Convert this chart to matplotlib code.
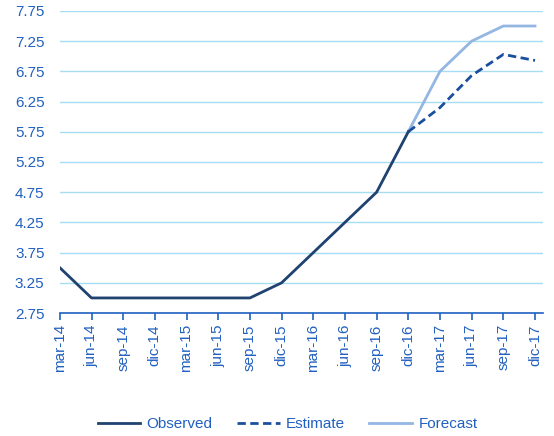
import matplotlib.pyplot as plt
import numpy as np

quarters = ["mar-14", "jun-14", "sep-14", "dic-14", "mar-15", "jun-15", "sep-15", "dic-15",
            "mar-16", "jun-16", "sep-16", "dic-16", "mar-17", "jun-17", "sep-17", "dic-17"]
observed = [3.5, 3.0, 3.0, 3.0, 3.0, 3.0, 3.0, 3.25, 3.75, 4.25, 4.75, 5.75]
estimate = [5.75, 6.15, 6.68, 7.03, 6.93]
forecast = [5.75, 6.75, 7.25, 7.5, 7.5]

label_color = "#2160c0"
grid_color = "#a8dcf2"

plt.rcParams["font.family"] = ["Liberation Sans", "DejaVu Sans"]

fig = plt.figure(figsize=(5.54, 4.36), dpi=100)
ax = fig.add_axes([0.108, 0.282, 0.872, 0.693])

x = np.arange(len(quarters))
x_obs = x[:len(observed)]
x_fc = x[len(observed) - 1:]

ax.plot(x_obs, observed, color="#1f4270", lw=2, label="Observed", zorder=4)
ax.plot(x_fc, estimate, color="#1a4f9e", lw=2, ls=(0, (3, 1.6)), label="Estimate", zorder=3)
ax.plot(x_fc, forecast, color="#93b6e3", lw=2, label="Forecast", zorder=2)

ax.set_xlim(0, len(quarters) - 0.75)
ax.set_ylim(2.75, 7.75)
yt = np.arange(2.75, 7.76, 0.5)
ax.set_yticks(yt)
ax.set_yticklabels([f"{v:.2f}" for v in yt])
ax.set_xticks(x)
ax.set_xticklabels(quarters, rotation=90)
ax.yaxis.grid(True, color=grid_color, lw=1)
ax.set_axisbelow(True)

for s in ["top", "right", "left"]:
    ax.spines[s].set_visible(False)
ax.spines["bottom"].set_color(label_color)
ax.spines["bottom"].set_linewidth(1.2)
ax.tick_params(axis="y", length=0, pad=11, labelsize=11, labelcolor=label_color)
ax.tick_params(axis="x", length=5, width=1.2, color=label_color, labelsize=11,
               labelcolor=label_color, direction="out", pad=3)

fig.legend(loc="center", bbox_to_anchor=(0.519, 0.027), ncol=3, frameon=False,
           fontsize=11, labelcolor=label_color, handlelength=2.8, columnspacing=1.6,
           handletextpad=0.4)

fig.savefig("out.png", dpi=100)
